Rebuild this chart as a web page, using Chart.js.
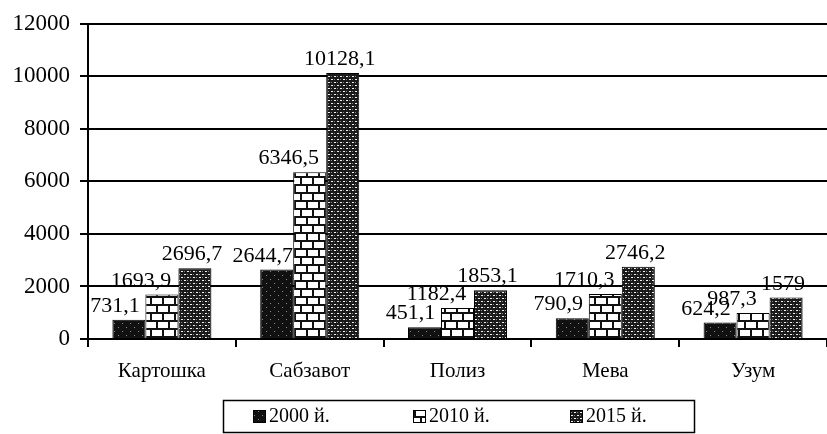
<!DOCTYPE html>
<html>
<head>
<meta charset="utf-8">
<script src="https://cdn.jsdelivr.net/npm/chart.js@4"></script>
<style>
  html, body { margin: 0; padding: 0; background: #fff; }
  #wrap { width: 827px; height: 434px; }
</style>
</head>
<body>
<div id="wrap"><canvas id="myChart" width="827" height="434"></canvas></div>
<script>
const categories = ["Картошка", "Сабзавот", "Полиз", "Мева", "Узум"];
const seriesNames = ["2000 й.", "2010 й.", "2015 й."];
const values2000 = [731.1, 2644.7, 451.1, 790.9, 624.2];
const values2010 = [1693.9, 6346.5, 1182.4, 1710.3, 987.3];
const values2015 = [2696.7, 10128.1, 1853.1, 2746.2, 1579];
const yTicks = [0, 2000, 4000, 6000, 8000, 10000, 12000];

const serif = "'Liberation Serif', 'DejaVu Serif', serif";

// little pattern tiles to mimic the printed black-and-white fills
function makePattern(kind) {
  const c = document.createElement("canvas");
  const g = c.getContext("2d");
  if (kind === "solid") {
    c.width = 8; c.height = 8;
    g.fillStyle = "#111";
    g.fillRect(0, 0, 8, 8);
    g.fillStyle = "rgba(255,255,255,0.5)";
    g.fillRect(2, 3, 1, 1);
    g.fillRect(6, 7, 1, 1);
  } else if (kind === "brick") {
    c.width = 12; c.height = 16;
    g.fillStyle = "#fff";
    g.fillRect(0, 0, 12, 16);
    g.fillStyle = "#111";
    g.fillRect(0, 0, 12, 2);
    g.fillRect(0, 8, 12, 2);
    g.fillRect(0, 0, 2, 8);
    g.fillRect(6, 8, 2, 8);
  } else {
    c.width = 6; c.height = 6;
    g.fillStyle = "#1a1a1a";
    g.fillRect(0, 0, 6, 6);
    g.fillStyle = "#f0f0f0";
    g.fillRect(1, 1, 2, 1);
    g.fillRect(4, 4, 2, 1);
    g.fillStyle = "#888";
    g.fillRect(4, 1, 1, 1);
    g.fillRect(1, 4, 1, 1);
  }
  return g.createPattern(c, "repeat");
}

const ctx = document.getElementById("myChart").getContext("2d");
const fills = [makePattern("solid"), makePattern("brick"), makePattern("cross")];
const labelShift = [-14, -21, -3];

const valueLabels = {
  id: "valueLabels",
  afterDatasetsDraw(chart) {
    const c = chart.ctx;
    c.save();
    c.font = "22px " + serif;
    c.fillStyle = "#000";
    c.textAlign = "center";
    c.textBaseline = "alphabetic";
    chart.data.datasets.forEach((ds, i) => {
      chart.getDatasetMeta(i).data.forEach((bar, j) => {
        const txt = String(ds.data[j]).replace(".", ",");
        c.fillText(txt, bar.x + labelShift[i], bar.y - 8);
      });
    });
    c.restore();
  },
};

const boxLegend = {
  id: "boxLegend",
  afterDraw(chart) {
    const c = chart.ctx;
    c.save();
    c.strokeStyle = "#000";
    c.lineWidth = 1.5;
    c.strokeRect(223.5, 400.5, 471, 32);
    const xs = [253, 413, 570];
    c.font = "20px " + serif;
    c.textBaseline = "middle";
    c.textAlign = "left";
    chart.data.datasets.forEach((ds, i) => {
      c.fillStyle = ds.backgroundColor;
      c.fillRect(xs[i], 410, 12, 12);
      c.lineWidth = 1;
      c.strokeRect(xs[i] + 0.5, 410.5, 12, 12);
      c.fillStyle = "#000";
      c.fillText(ds.label, xs[i] + 16, 417);
    });
    c.restore();
  },
};

const myChart = new Chart(ctx, {
  type: "bar",
  data: {
    labels: categories,
    datasets: [
      { label: seriesNames[0], data: values2000, backgroundColor: fills[0] },
      { label: seriesNames[1], data: values2010, backgroundColor: fills[1] },
      { label: seriesNames[2], data: values2015, backgroundColor: fills[2] },
    ].map((d) => ({
      ...d,
      borderColor: "#000",
      borderWidth: 1,
      categoryPercentage: 0.67,
      barPercentage: 1.0,
    })),
  },
  options: {
    responsive: false,
    animation: false,
    layout: { padding: { top: 20, right: 0, bottom: 51, left: 0 } },
    plugins: {
      legend: { display: false },
      tooltip: { enabled: false },
    },
    scales: {
      x: {
        afterFit: (scale) => { scale.height = 44; },
        grid: {
          offset: true,
          drawOnChartArea: false,
          drawTicks: true,
          tickLength: 8,
          color: "#000",
          lineWidth: 2,
        },
        border: { display: true, color: "#000", width: 2 },
        ticks: {
          color: "#000",
          font: { family: serif, size: 21 },
          padding: 12,
        },
      },
      y: {
        min: 0,
        max: 12000,
        afterFit: (scale) => { scale.width = 88; },
        afterBuildTicks: (scale) => {
          scale.ticks = yTicks.map((v) => ({ value: v }));
        },
        grid: {
          color: "#000",
          lineWidth: 2,
          tickLength: 8,
        },
        border: { display: true, color: "#000", width: 2 },
        ticks: {
          color: "#000",
          font: { family: serif, size: 23 },
          padding: 10,
          callback: (v) => String(v),
        },
      },
    },
  },
  plugins: [valueLabels, boxLegend],
});
</script>
</body>
</html>
